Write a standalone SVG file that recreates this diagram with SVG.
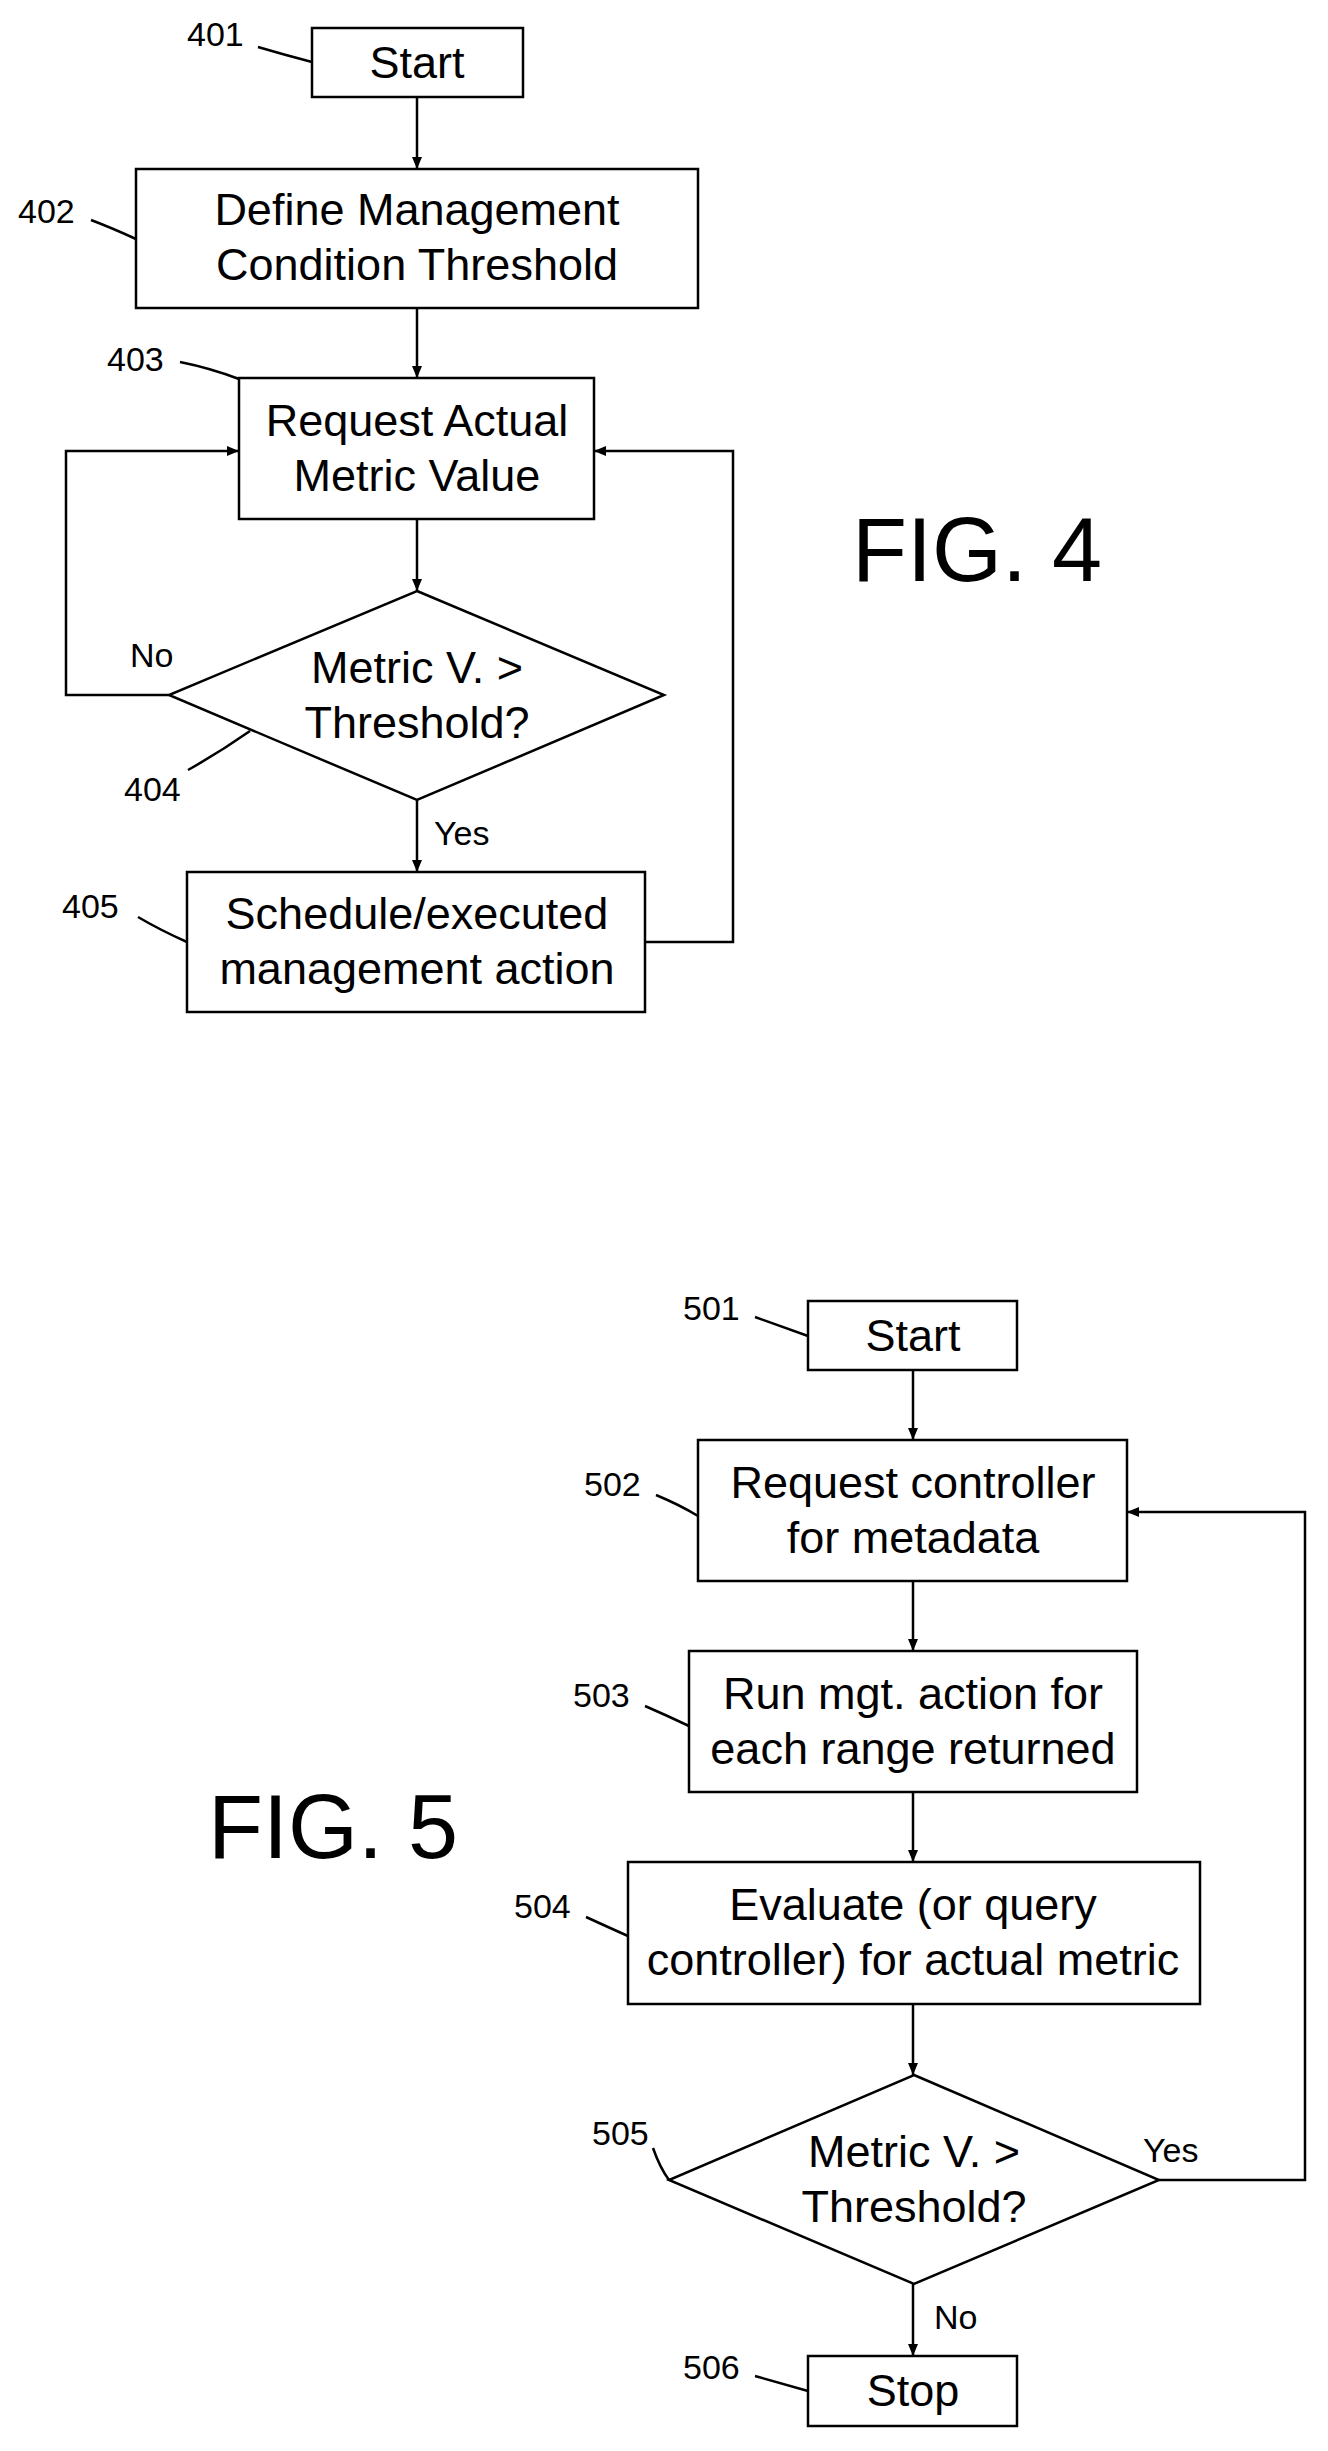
<svg xmlns="http://www.w3.org/2000/svg" width="1328" height="2451" viewBox="0 0 1328 2451">
<defs>
<marker id="ah" markerWidth="12" markerHeight="10" refX="12" refY="5" orient="auto" markerUnits="userSpaceOnUse"><path d="M0,0 L12,5 L0,10 z" fill="#000"/></marker>
<style>
.b{fill:#fff;stroke:#000;stroke-width:2.5}
.t{font-family:"Liberation Sans",Arial,sans-serif;font-size:45px;text-anchor:middle;fill:#000}
.l{font-family:"Liberation Sans",Arial,sans-serif;font-size:34px;fill:#000}
.f{font-family:"Liberation Sans",Arial,sans-serif;font-size:90px;text-anchor:middle;fill:#000}
.c{fill:none;stroke:#000;stroke-width:2.5}
</style>
</defs>
<rect width="1328" height="2451" fill="#fff"/>
<g id="connectors" class="c">
<line x1="417" y1="97" x2="417" y2="169" marker-end="url(#ah)"/>
<line x1="417" y1="308" x2="417" y2="378" marker-end="url(#ah)"/>
<line x1="417" y1="519" x2="417" y2="591" marker-end="url(#ah)"/>
<polyline points="169,695 66,695 66,451 239,451" marker-end="url(#ah)"/>
<line x1="417" y1="800" x2="417" y2="872" marker-end="url(#ah)"/>
<polyline points="645,942 733,942 733,451 594,451" marker-end="url(#ah)"/>
<line x1="913" y1="1370" x2="913" y2="1440" marker-end="url(#ah)"/>
<line x1="913" y1="1581" x2="913" y2="1651" marker-end="url(#ah)"/>
<line x1="913" y1="1792" x2="913" y2="1862" marker-end="url(#ah)"/>
<line x1="913" y1="2004" x2="913" y2="2075" marker-end="url(#ah)"/>
<polyline points="1159,2180 1305,2180 1305,1512 1127,1512" marker-end="url(#ah)"/>
<line x1="913" y1="2284" x2="913" y2="2356" marker-end="url(#ah)"/>
<path d="M258,47 Q285,55 312,62"/>
<path d="M91,220 Q112,228 136,239"/>
<path d="M180,362 Q210,368 239,379"/>
<path d="M188,770 Q220,752 250,731"/>
<path d="M138,917 Q160,930 187,942"/>
<path d="M755,1317 Q780,1326 808,1336"/>
<path d="M656,1495 Q680,1505 698,1516"/>
<path d="M645,1706 Q668,1716 689,1726"/>
<path d="M586,1917 Q610,1928 628,1936"/>
<path d="M653,2148 Q660,2168 669,2180"/>
<path d="M755,2376 Q780,2383 808,2391"/>
</g>
<g id="n401"><rect class="b" x="312" y="28" width="211" height="69"/><text class="t" x="417" y="78">Start</text><text class="l" x="187" y="46">401</text></g>
<g id="n402"><rect class="b" x="136" y="169" width="562" height="139"/><text class="t" x="417" y="225">Define Management</text><text class="t" x="417" y="280">Condition Threshold</text><text class="l" x="18" y="223">402</text></g>
<g id="n403"><rect class="b" x="239" y="378" width="355" height="141"/><text class="t" x="417" y="436">Request Actual</text><text class="t" x="417" y="491">Metric Value</text><text class="l" x="107" y="371">403</text></g>
<g id="n404"><polygon class="b" points="417,591 664,695 417,800 169,695"/><text class="t" x="417" y="683">Metric V. &gt;</text><text class="t" x="417" y="738">Threshold?</text><text class="l" x="130" y="667">No</text><text class="l" x="124" y="801">404</text><text class="l" x="434" y="845">Yes</text></g>
<g id="n405"><rect class="b" x="187" y="872" width="458" height="140"/><text class="t" x="417" y="929">Schedule/executed</text><text class="t" x="417" y="984">management action</text><text class="l" x="62" y="918">405</text></g>
<text class="f" x="977" y="581">FIG. 4</text>
<g id="n501"><rect class="b" x="808" y="1301" width="209" height="69"/><text class="t" x="913" y="1351">Start</text><text class="l" x="683" y="1320">501</text></g>
<g id="n502"><rect class="b" x="698" y="1440" width="429" height="141"/><text class="t" x="913" y="1498">Request controller</text><text class="t" x="913" y="1553">for metadata</text><text class="l" x="584" y="1496">502</text></g>
<g id="n503"><rect class="b" x="689" y="1651" width="448" height="141"/><text class="t" x="913" y="1709">Run mgt. action for</text><text class="t" x="913" y="1764">each range returned</text><text class="l" x="573" y="1707">503</text></g>
<g id="n504"><rect class="b" x="628" y="1862" width="572" height="142"/><text class="t" x="913" y="1920">Evaluate (or query</text><text class="t" x="913" y="1975">controller) for actual metric</text><text class="l" x="514" y="1918">504</text></g>
<g id="n505"><polygon class="b" points="914,2075 1159,2180 914,2284 669,2180" /><text class="t" x="914" y="2167">Metric V. &gt;</text><text class="t" x="914" y="2222">Threshold?</text><text class="l" x="1143" y="2162">Yes</text><text class="l" x="934" y="2329">No</text><text class="l" x="592" y="2145">505</text></g>
<g id="n506"><rect class="b" x="808" y="2356" width="209" height="70"/><text class="t" x="913" y="2406">Stop</text><text class="l" x="683" y="2379">506</text></g>
<text class="f" x="333" y="1858">FIG. 5</text>
</svg>
